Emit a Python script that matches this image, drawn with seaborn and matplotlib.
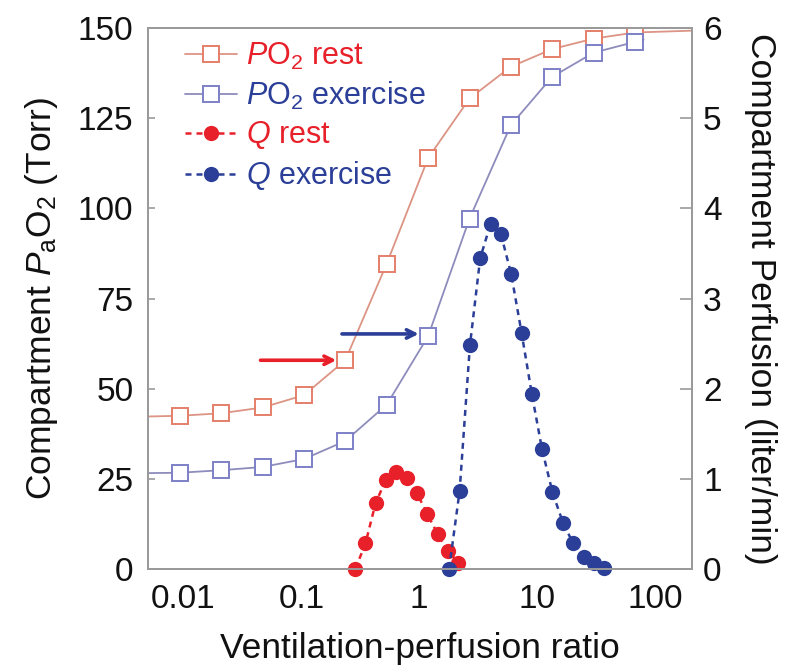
import numpy as np
import pandas as pd
import matplotlib
matplotlib.use("Agg")
import matplotlib.pyplot as plt
from matplotlib.lines import Line2D
import seaborn as sns

# ---------------- data ----------------
vq_po2 = [0.0093, 0.0209, 0.0469, 0.105, 0.236, 0.530, 1.19, 2.67, 5.98, 13.4, 30.1, 67.6]
po2_rest = [42.5, 43.2, 44.8, 48.2, 57.9, 84.7, 114.0, 130.5, 139.3, 144.2, 147.1, 148.8]
po2_exercise = [26.7, 27.4, 28.3, 30.5, 35.5, 45.6, 64.6, 97.2, 123.1, 136.5, 143.2, 146.2]

# curve ends beyond the markers (read at the plot edges)
rest_curve_x = [0.005] + vq_po2 + [200.0]
rest_curve_y = [42.3] + po2_rest + [149.3]
ex_curve_x = [0.005] + vq_po2 + [80.0]
ex_curve_y = [26.6] + po2_exercise + [146.8]

vq_q_rest = [0.287, 0.350, 0.426, 0.521, 0.638, 0.782, 0.957, 1.17, 1.43, 1.75, 2.15]
q_rest = [0.0, 0.285, 0.73, 0.99, 1.08, 1.01, 0.84, 0.61, 0.39, 0.20, 0.07]

vq_q_ex = [1.79, 2.20, 2.69, 3.29, 4.03, 4.92, 6.03, 7.38, 9.02, 11.0, 13.5, 16.6,
           20.2, 24.8, 30.3, 37.1]
q_exercise = [0.0, 0.865, 2.48, 3.45, 3.83, 3.72, 3.27, 2.62, 1.94, 1.33, 0.85, 0.51,
              0.285, 0.13, 0.063, 0.008]

# arrows (start x, end x, y on PO2 axis)
arrow_rest = (0.045, 0.198, 57.9)
arrow_ex = (0.221, 0.99, 65.2)

x_ticks = [0.01, 0.1, 1, 10, 100]
x_tick_labels = ["0.01", "0.1", "1", "10", "100"]
y_left_ticks = [0, 25, 50, 75, 100, 125, 150]
y_right_ticks = [0, 1, 2, 3, 4, 5, 6]

# ---------------- style ----------------
sns.set_style("white")
plt.rcParams["font.family"] = ["Liberation Sans", "DejaVu Sans"]
plt.rcParams["mathtext.fontset"] = "custom"
plt.rcParams["mathtext.rm"] = "Liberation Sans"
plt.rcParams["mathtext.it"] = "Liberation Sans:italic"
plt.rcParams["mathtext.bf"] = "Liberation Sans:bold"

RED = "#e8202a"
BLUE = "#2b3f98"
REST_LINE = "#dc9484"
REST_MK = "#e47f6a"
EX_LINE = "#8d8cbc"
EX_MK = "#7d80c6"
SPINE = "#9a9a9a"
INK = "#111111"

fig = plt.figure(figsize=(7.88, 6.71), dpi=100)
ax = fig.add_axes([0.1878, 0.152, 0.6904, 0.806])
ax2 = ax.twinx()

# PO2 curves (left axis)
sns.lineplot(x=rest_curve_x, y=rest_curve_y, ax=ax, color=REST_LINE, linewidth=1.3,
             sort=False, zorder=2)
sns.lineplot(x=ex_curve_x, y=ex_curve_y, ax=ax, color=EX_LINE, linewidth=1.3,
             sort=False, zorder=2)
sns.lineplot(x=vq_po2, y=po2_rest, ax=ax, linestyle="none", marker="s", markersize=11.5,
             markerfacecolor="white", markeredgecolor=REST_MK, markeredgewidth=1.4,
             color=REST_MK, zorder=3)
sns.lineplot(x=vq_po2, y=po2_exercise, ax=ax, linestyle="none", marker="s", markersize=11.5,
             markerfacecolor="white", markeredgecolor=EX_MK, markeredgewidth=1.4,
             color=EX_MK, zorder=3)

# arrows
ax.annotate("", xy=(arrow_rest[1], arrow_rest[2]), xytext=(arrow_rest[0], arrow_rest[2]),
            arrowprops=dict(arrowstyle="->,head_length=0.6,head_width=0.3", color=RED, lw=2.6,
                            shrinkA=0, shrinkB=0))
ax.annotate("", xy=(arrow_ex[1], arrow_ex[2]), xytext=(arrow_ex[0], arrow_ex[2]),
            arrowprops=dict(arrowstyle="->,head_length=0.6,head_width=0.3", color=BLUE, lw=2.6,
                            shrinkA=0, shrinkB=0))

# perfusion (right axis)
sns.lineplot(x=vq_q_rest, y=q_rest, ax=ax2, color=RED, linestyle=(0, (2.4, 2.0)), linewidth=1.8,
             marker="o", markersize=11, markeredgewidth=0, clip_on=False)
sns.lineplot(x=vq_q_ex, y=q_exercise, ax=ax2, color=BLUE, linestyle=(0, (2.4, 2.0)), linewidth=1.8,
             marker="o", markersize=11, markeredgewidth=0, clip_on=False)

# axes
ax.set_xscale("log")
ax.set_xlim(0.005, 206)
ax.set_ylim(0, 150)
ax2.set_ylim(0, 6)
ax.set_xticks(x_ticks)
ax.set_xticklabels(x_tick_labels)
ax.xaxis.set_minor_locator(matplotlib.ticker.NullLocator())
ax.set_yticks(y_left_ticks)
ax2.set_yticks(y_right_ticks)

for a in (ax, ax2):
    for s in a.spines.values():
        s.set_color(SPINE)
        s.set_linewidth(1.4)
        s.set_visible(True)
ax.tick_params(axis="x", direction="in", length=9, width=1.2, color=SPINE,
               labelsize=24, pad=11, labelcolor=INK)
ax.tick_params(axis="y", direction="in", length=5, width=1.2, color=SPINE,
               labelsize=24, pad=10.5, labelcolor=INK)
ax2.tick_params(axis="y", direction="in", length=9, width=1.2, color=SPINE,
                labelsize=24, pad=8, labelcolor=INK)

ax.set_xlabel("Ventilation-perfusion ratio", fontsize=25.5, labelpad=12, color=INK)
ax.set_ylabel(r"Compartment $P_{\rm a}$O$_2$ (Torr)", fontsize=25.5, labelpad=13, color=INK)
ax2.set_ylabel("Compartment Perfusion (liter/min)", fontsize=25.5, rotation=270,
               labelpad=40, color=INK)

# legend
handles = [
    Line2D([], [], color=REST_LINE, lw=1.3, marker="s", markersize=11.5,
           markerfacecolor="white", markeredgecolor=REST_MK, markeredgewidth=1.4),
    Line2D([], [], color=EX_LINE, lw=1.3, marker="s", markersize=11.5,
           markerfacecolor="white", markeredgecolor=EX_MK, markeredgewidth=1.4),
    Line2D([], [], color=RED, lw=1.8, linestyle=(0, (2.4, 2.0)), marker="o", markersize=11,
           markeredgewidth=0),
    Line2D([], [], color=BLUE, lw=1.8, linestyle=(0, (2.4, 2.0)), marker="o", markersize=11,
           markeredgewidth=0),
]
labels = [r"$P$O$_2$ rest", r"$P$O$_2$ exercise", r"$Q$ rest", r"$Q$ exercise"]
leg = ax2.legend(handles, labels, loc="upper left", bbox_to_anchor=(0.046, 1.0),
                 frameon=False, fontsize=22, handlelength=1.7, handletextpad=0.3,
                 labelspacing=0.26, borderaxespad=0.0)
for t, c in zip(leg.get_texts(), [RED, BLUE, RED, BLUE]):
    t.set_color(c)

fig.savefig("out.png", dpi=100)
